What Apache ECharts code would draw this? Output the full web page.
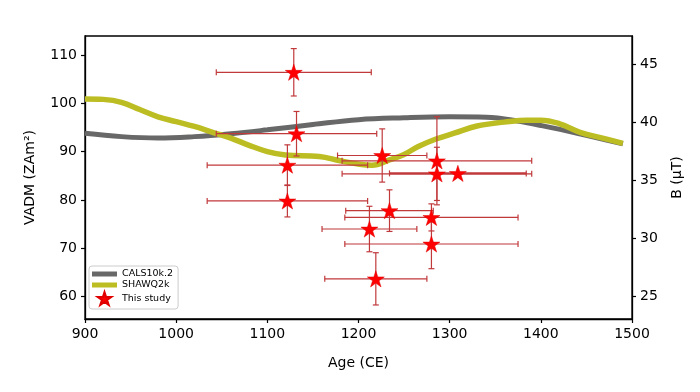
<!DOCTYPE html>
<html><head><meta charset="utf-8">
<script src="https://cdn.jsdelivr.net/npm/echarts@6/dist/echarts.min.js"></script>
<style>html,body{margin:0;padding:0;background:#fff}#c{width:700px;height:392px}</style>
</head><body><div id="c"></div>
<script>
// Curves
const calsYears = [900, 940, 980, 1020, 1060, 1100, 1150, 1200, 1250, 1300, 1340, 1370, 1400, 1440, 1490];
const calsVADM  = [93.8, 93.1, 92.8, 93.1, 93.7, 94.5, 95.6, 96.6, 97.0, 97.2, 97.1, 96.5, 95.4, 93.8, 91.6];
const shawYears = [900, 920, 940, 960, 980, 1000, 1020, 1040, 1060, 1080, 1100, 1120, 1157, 1180, 1201, 1215, 1234, 1250, 1265, 1285, 1305, 1330, 1360, 1385, 1400, 1420, 1443, 1470, 1490];
const shawVADM  = [100.9, 100.8, 100.2, 98.7, 97.2, 96.2, 95.2, 94.0, 92.8, 91.3, 90.0, 89.3, 89.0, 88.1, 87.4, 87.2, 88.3, 89.4, 91.0, 92.6, 93.8, 95.3, 96.1, 96.5, 96.5, 95.8, 94.0, 92.7, 91.7];
// This study
const sampleAge  = [1129, 1132, 1122, 1122, 1226, 1234, 1212, 1219, 1286, 1286, 1280, 1280, 1309];
const sampleVADM = [106.4, 93.7, 87.2, 79.8, 89.2, 77.8, 74.0, 63.7, 88.1, 85.4, 76.4, 70.9, 85.5];
const ageErr     = [85, 88, 88, 88, 49, 48, 52, 56, 104, 104, 95, 95, 75];
const vadmErr    = [4.9, 4.6, 4.2, 3.3, 5.5, 4.3, 4.7, 5.4, 9.1, 5.5, 2.8, 5.1, 0];
const thickErr   = [0, 0, 0, 0, 0, 0, 0, 0, 0, 0, 0, 0, 1];
// Axes
const xTicks = [900, 1000, 1100, 1200, 1300, 1400, 1500];
const vadmTicks = [60, 70, 80, 90, 100, 110];
const bTicks = [25, 30, 35, 40, 45];
const vadmMin = 55.4, vadmMax = 113.9, vadmPerB = 2.4;

const FONT = 'DejaVu Sans';
const errColor = '#c0393b';
const grayC = '#686868', oliveC = '#bcbd22';
const starPath = 'path://M50,0 L61.2,34.5 L97.6,34.5 L68.2,55.9 L79.4,90.5 L50,69.1 L20.6,90.5 L31.8,55.9 L2.4,34.5 L38.8,34.5 Z';
const barPath = 'path://M0,0 L50,0 L50,10 L0,10 Z';

const errData = sampleAge.map((a, i) => [a, sampleVADM[i], ageErr[i], vadmErr[i], thickErr[i]]);
const starData = sampleAge.map((a, i) => [a, sampleVADM[i]]);

const chart = echarts.init(document.getElementById('c'), null, {renderer: 'canvas'});
chart.setOption({
  animation: false,
  backgroundColor: '#fff',
  grid: {left: 85, right: 68, top: 36, bottom: 73, show: true, borderColor: '#000', borderWidth: 1.3, backgroundColor: 'transparent'},
  legend: {
    orient: 'vertical', left: 89, top: 266,
    data: [
      {name: 'CALS10k.2', icon: barPath, itemStyle: {color: grayC}},
      {name: 'SHAWQ2k', icon: barPath, itemStyle: {color: oliveC}},
      {name: 'This study', icon: starPath, itemStyle: {color: '#ff0000'}}
    ],
    symbolKeepAspect: true,
    itemWidth: 25, itemHeight: 13, itemGap: 1,
    padding: [3, 5, 3, 3],
    borderColor: '#cccccc', borderWidth: 1, borderRadius: 3, backgroundColor: 'rgba(255,255,255,0.85)',
    textStyle: {fontFamily: FONT, fontSize: 9.5, color: '#000'}
  },
  xAxis: {
    type: 'value', min: 900, max: 1500, interval: 100,
    name: 'Age (CE)', nameLocation: 'middle', nameGap: 37,
    nameTextStyle: {fontFamily: FONT, fontSize: 14, color: '#000'},
    axisLine: {show: true, lineStyle: {color: '#000', width: 1.3}},
    axisTick: {show: true, inside: false, length: 4, lineStyle: {color: '#000', width: 1.2}},
    axisLabel: {fontFamily: FONT, fontSize: 14, color: '#000', margin: 8, showMinLabel: true, showMaxLabel: true,
      formatter: v => String(v)},
    splitLine: {show: false}
  },
  yAxis: [{
    type: 'value', min: vadmMin, max: vadmMax, position: 'left',
    name: 'VADM (ZAm²)', nameLocation: 'middle', nameGap: 48, nameRotate: 90,
    nameTextStyle: {fontFamily: FONT, fontSize: 14, color: '#000'},
    axisLine: {show: true, lineStyle: {color: '#000', width: 1.3}},
    axisTick: {show: true, length: 4, customValues: vadmTicks, lineStyle: {color: '#000', width: 1.2}},
    axisLabel: {fontFamily: FONT, fontSize: 14, color: '#000', margin: 8, customValues: vadmTicks},
    splitLine: {show: false}
  }, {
    type: 'value', min: vadmMin / vadmPerB, max: vadmMax / vadmPerB, position: 'right',
    name: 'B (µT)', nameLocation: 'middle', nameGap: 38, nameRotate: 90,
    nameTextStyle: {fontFamily: FONT, fontSize: 14, color: '#000'},
    axisLine: {show: true, lineStyle: {color: '#000', width: 1.3}},
    axisTick: {show: true, length: 4, customValues: bTicks, lineStyle: {color: '#000', width: 1.2}},
    axisLabel: {fontFamily: FONT, fontSize: 14, color: '#000', margin: 8, customValues: bTicks},
    splitLine: {show: false}
  }],
  series: [{
    name: 'CALS10k.2', type: 'line', yAxisIndex: 0, z: 2,
    data: calsYears.map((y, i) => [y, calsVADM[i]]),
    symbol: 'none', smooth: 0.4,
    lineStyle: {color: grayC, width: 5}, itemStyle: {color: grayC}
  }, {
    name: 'SHAWQ2k', type: 'line', yAxisIndex: 0, z: 3,
    data: shawYears.map((y, i) => [y, shawVADM[i]]),
    symbol: 'none', smooth: 0.4,
    lineStyle: {color: oliveC, width: 5.5}, itemStyle: {color: oliveC}
  }, {
    name: 'errors', type: 'custom', yAxisIndex: 0, z: 4,
    data: errData,
    renderItem: function (params, api) {
      const x = api.value(0), y = api.value(1), ex = api.value(2), ey = api.value(3), thick = api.value(4);
      const l = api.coord([x - ex, y]), r = api.coord([x + ex, y]);
      const t = api.coord([x, y + ey]), b = api.coord([x, y - ey]);
      const cap = 3;
      const w = thick ? 2.2 : 1.2;
      const st = {stroke: errColor, lineWidth: w, fill: null};
      const st2 = {stroke: errColor, lineWidth: 1.2, fill: null};
      const ch = [
        {type: 'line', shape: {x1: l[0], y1: l[1], x2: r[0], y2: r[1]}, style: st},
        {type: 'line', shape: {x1: l[0], y1: l[1] - cap, x2: l[0], y2: l[1] + cap}, style: st2},
        {type: 'line', shape: {x1: r[0], y1: r[1] - cap, x2: r[0], y2: r[1] + cap}, style: st2}
      ];
      if (ey > 0) {
        ch.push({type: 'line', shape: {x1: t[0], y1: t[1], x2: b[0], y2: b[1]}, style: st2});
        ch.push({type: 'line', shape: {x1: t[0] - cap, y1: t[1], x2: t[0] + cap, y2: t[1]}, style: st2});
        ch.push({type: 'line', shape: {x1: b[0] - cap, y1: b[1], x2: b[0] + cap, y2: b[1]}, style: st2});
      }
      return {type: 'group', children: ch};
    }
  }, {
    name: 'This study', type: 'scatter', yAxisIndex: 0, z: 5,
    data: starData, symbol: starPath, symbolSize: 17, symbolKeepAspect: true,
    itemStyle: {color: '#ff0000', borderColor: '#e00000', borderWidth: 0.5, opacity: 1}
  }]
});
</script></body></html>
